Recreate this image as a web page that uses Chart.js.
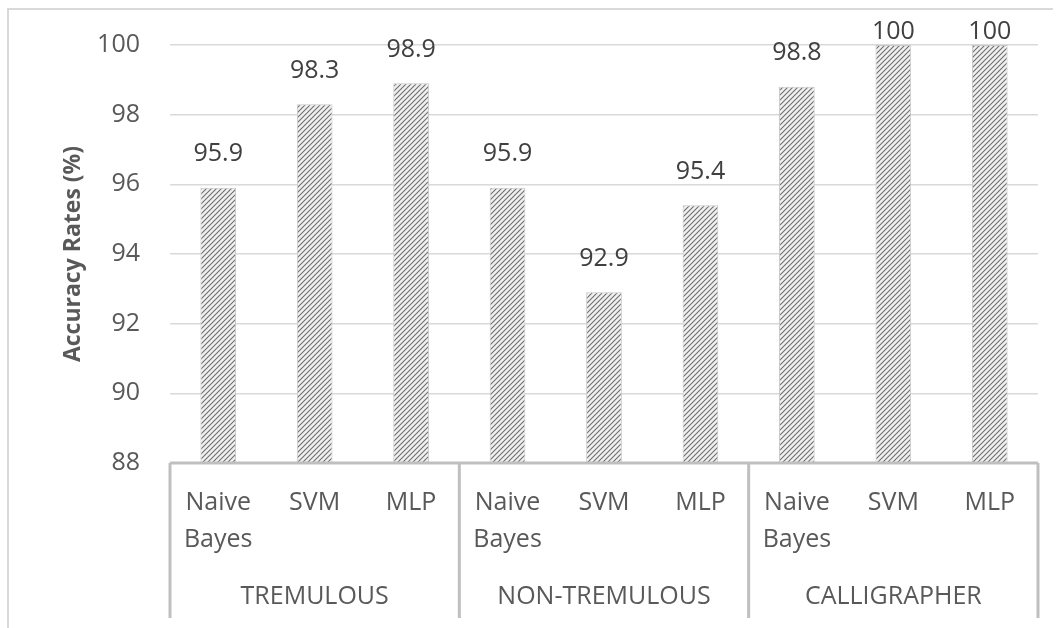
<!DOCTYPE html>
<html lang="en">
<head>
<meta charset="UTF-8">
<title>Accuracy Rates</title>
<script src="https://cdn.jsdelivr.net/npm/chart.js"></script>
<style>
  body { margin: 0; background: #fff; }
  #wrap { position: relative; width: 1062px; height: 628px; }
</style>
</head>
<body>
<div id="wrap"><canvas id="chartCanvas" width="1062" height="628"></canvas></div>
<script>
// groups along the bottom, methods repeated inside each group
var groups = ['TREMULOUS', 'NON-TREMULOUS', 'CALLIGRAPHER'];
var methods = [['Naive', 'Bayes'], 'SVM', 'MLP'];
var accuracy = [95.9, 98.3, 98.9, 95.9, 92.9, 95.4, 98.8, 100, 100];
var yTicks = [88, 90, 92, 94, 96, 98, 100];

var labels = [];
groups.forEach(function () {
    methods.forEach(function (m) { labels.push(m); });
});

var canvas = document.getElementById('chartCanvas');
var ctx = canvas.getContext('2d');

// diagonal hatch fill for the bars
function makeHatch() {
    var n = 5;
    var c = document.createElement('canvas');
    c.width = n; c.height = n;
    var g = c.getContext('2d');
    g.fillStyle = '#f0f0f0';
    g.fillRect(0, 0, n, n);
    g.strokeStyle = '#6e6e6e';
    g.lineWidth = 1.1;
    g.beginPath();
    g.moveTo(0, n); g.lineTo(n, 0);
    g.moveTo(-1, 1); g.lineTo(1, -1);
    g.moveTo(n - 1, n + 1); g.lineTo(n + 1, n - 1);
    g.stroke();
    return ctx.createPattern(c, 'repeat');
}

var FONT = '"Open Sans", sans-serif';
Chart.defaults.font.family = FONT;

var axisColor = '#bfbfbf';
var textColor = '#595959';

// value labels above each bar
var valueLabels = {
    id: 'valueLabels',
    afterDatasetsDraw: function (chart) {
        var c = chart.ctx;
        var meta = chart.getDatasetMeta(0);
        c.save();
        c.font = '25px ' + FONT;
        c.fillStyle = '#404040';
        c.textAlign = 'center';
        c.textBaseline = 'bottom';
        meta.data.forEach(function (bar, i) {
            var y = Math.max(bar.y - 21, 44);
            c.fillText(String(accuracy[i]), bar.x, y);
        });
        c.restore();
    }
};

// category axis line, group separators, group names and the outer frame
var groupAxis = {
    id: 'groupAxis',
    afterDraw: function (chart) {
        var c = chart.ctx;
        var x = chart.scales.x;
        var area = chart.chartArea;
        var step = x.width / labels.length;
        var bottom = area.bottom + 155;
        c.save();
        c.strokeStyle = axisColor;
        c.lineWidth = 3;
        c.beginPath();
        c.moveTo(area.left, area.bottom);
        c.lineTo(area.right, area.bottom);
        for (var g = 0; g <= groups.length; g++) {
            var px = x.getPixelForValue(Math.min(g * methods.length, labels.length - 1)) +
                (g === groups.length ? step / 2 : -step / 2);
            c.moveTo(px, area.bottom);
            c.lineTo(px, bottom);
        }
        c.stroke();

        c.font = '25px ' + FONT;
        c.fillStyle = textColor;
        c.textAlign = 'center';
        c.textBaseline = 'middle';
        groups.forEach(function (name, g) {
            var a = x.getPixelForValue(g * methods.length);
            var b = x.getPixelForValue(g * methods.length + methods.length - 1);
            c.fillText(name, (a + b) / 2, 597);
        });

        c.strokeStyle = '#d9d9d9';
        c.lineWidth = 2;
        c.beginPath();
        c.moveTo(8, chart.height);
        c.lineTo(8, 9);
        c.lineTo(1053, 9);
        c.stroke();
        c.restore();
    }
};

new Chart(ctx, {
    type: 'bar',
    data: {
        labels: labels,
        datasets: [{
            data: accuracy,
            backgroundColor: makeHatch(),
            borderColor: '#c8c8c8',
            borderWidth: 1,
            barPercentage: 0.37,
            categoryPercentage: 1
        }]
    },
    options: {
        responsive: false,
        devicePixelRatio: 1,
        animation: false,
        layout: { padding: { top: 44, right: 24, left: 0, bottom: 0 } },
        plugins: {
            legend: { display: false },
            tooltip: { enabled: false }
        },
        scales: {
            x: {
                afterFit: function (s) { s.height = 165; },
                grid: { display: false, drawTicks: false },
                border: { display: false },
                ticks: {
                    color: textColor,
                    font: { size: 25, lineHeight: 1.5 },
                    padding: 21,
                    maxRotation: 0,
                    autoSkip: false
                }
            },
            y: {
                min: 88,
                max: 100,
                afterFit: function (s) { s.width = 170; },
                afterBuildTicks: function (s) {
                    s.ticks = yTicks.map(function (v) { return { value: v }; });
                },
                grid: { color: '#d9d9d9', lineWidth: 1.5, drawTicks: false },
                border: { display: false },
                ticks: {
                    color: textColor,
                    font: { size: 25 },
                    padding: 30
                },
                title: {
                    display: true,
                    text: 'Accuracy Rates (%)',
                    color: textColor,
                    font: { size: 23, weight: 'bold' },
                    padding: { top: 60, bottom: 0 }
                }
            }
        }
    },
    plugins: [valueLabels, groupAxis]
});
</script>
</body>
</html>
